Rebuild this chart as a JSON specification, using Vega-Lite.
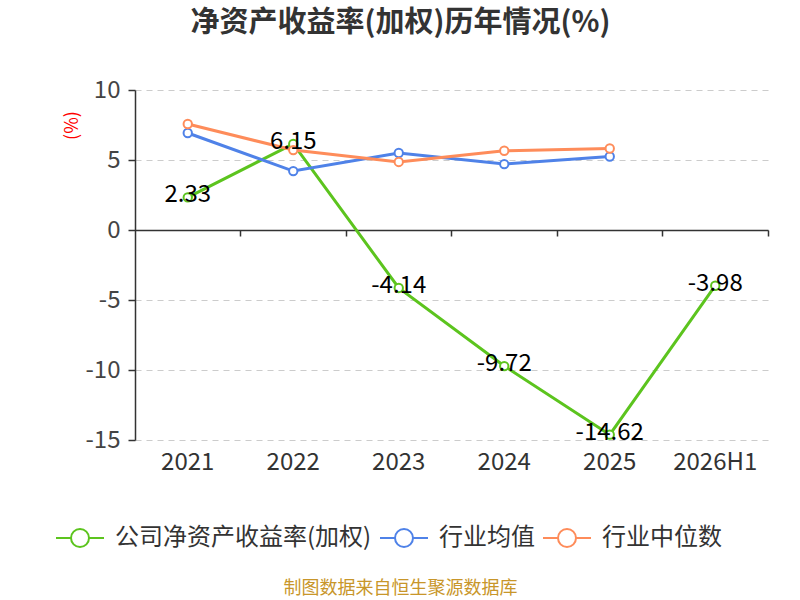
{
  "$schema": "https://vega.github.io/schema/vega-lite/v6.json",
  "width": 633,
  "height": 350,
  "autosize": {"type": "none"},
  "padding": {"left": 135, "top": 90, "right": 32, "bottom": 160},
  "background": "white",
  "config": {
    "view": {"stroke": null},
    "font": "Noto Sans CJK SC",
    "locale": {
      "number": {"decimal": ".", "thousands": ",", "grouping": [3], "currency": ["", ""], "minus": "-"}
    }
  },
  "title": {
    "text": "净资产收益率(加权)历年情况(%)",
    "fontSize": 29,
    "fontWeight": "bold",
    "color": "#333333",
    "anchor": "middle",
    "dx": -51,
    "offset": 40
  },
  "data": {
    "values": [
      {"year": "2021", "series": "公司净资产收益率(加权)", "value": 2.33},
      {"year": "2022", "series": "公司净资产收益率(加权)", "value": 6.15},
      {"year": "2023", "series": "公司净资产收益率(加权)", "value": -4.14},
      {"year": "2024", "series": "公司净资产收益率(加权)", "value": -9.72},
      {"year": "2025", "series": "公司净资产收益率(加权)", "value": -14.62},
      {"year": "2026H1", "series": "公司净资产收益率(加权)", "value": -3.98},
      {"year": "2021", "series": "行业均值", "value": 6.93},
      {"year": "2022", "series": "行业均值", "value": 4.21},
      {"year": "2023", "series": "行业均值", "value": 5.5},
      {"year": "2024", "series": "行业均值", "value": 4.71},
      {"year": "2025", "series": "行业均值", "value": 5.25},
      {"year": "2021", "series": "行业中位数", "value": 7.57},
      {"year": "2022", "series": "行业中位数", "value": 5.71},
      {"year": "2023", "series": "行业中位数", "value": 4.86},
      {"year": "2024", "series": "行业中位数", "value": 5.66},
      {"year": "2025", "series": "行业中位数", "value": 5.82}
    ]
  },
  "layer": [
    {
      "mark": {
        "type": "line",
        "strokeWidth": 3,
        "point": {"filled": false, "fill": "white", "size": 70, "strokeWidth": 2}
      },
      "encoding": {
        "x": {
          "field": "year",
          "type": "ordinal",
          "bandPosition": 0.5,
          "scale": {
            "type": "band",
            "domain": ["2021", "2022", "2023", "2024", "2025", "2026H1"],
            "paddingInner": 0,
            "paddingOuter": 0
          },
          "axis": {
            "domain": false,
            "ticks": false,
            "grid": false,
            "labelAngle": 0,
            "labelFontSize": 24,
            "labelColor": "#333333",
            "labelPadding": 10,
            "title": "制图数据来自恒生聚源数据库",
            "titleFontSize": 18,
            "titleFontWeight": "normal",
            "titleColor": "#c8962a",
            "titleX": 265,
            "titleY": 148,
            "titleAlign": "center",
            "titleBaseline": "middle"
          }
        },
        "y": {
          "field": "value",
          "type": "quantitative",
          "scale": {"domain": [-15, 10], "nice": false, "zero": false},
          "axis": {
            "values": [-15, -10, -5, 0, 5, 10],
            "labelFontSize": 24,
            "labelColor": "#444444",
            "labelPadding": 8,
            "tickSize": 7,
            "tickColor": "#333333",
            "tickWidth": 1.5,
            "domainColor": "#333333",
            "domainWidth": 1.5,
            "gridColor": "#cccccc",
            "gridDash": [6, 5],
            "gridWidth": 1.2,
            "title": "(%)",
            "titleColor": "#ff0000",
            "titleFontSize": 18,
            "titleFontWeight": "normal",
            "titleX": -63,
            "titleY": 35,
            "titleAlign": "center",
            "titleBaseline": "middle"
          }
        },
        "color": {
          "field": "series",
          "type": "nominal",
          "scale": {
            "domain": ["公司净资产收益率(加权)", "行业均值", "行业中位数"],
            "range": ["#5cc41e", "#4f82e8", "#fe8c5a"]
          },
          "legend": {
            "orient": "none",
            "direction": "horizontal",
            "legendX": -80,
            "legendY": 423,
            "title": null,
            "symbolType": "M-1,0H-0.375M0.375,0H1M0.375,0A0.375,0.375,0,1,1,-0.375,0A0.375,0.375,0,1,1,0.375,0",
            "symbolSize": 2304,
            "symbolStrokeWidth": 2,
            "symbolFillColor": "white",
            "labelFontSize": 24,
            "labelColor": "#333333",
            "labelOffset": 10,
            "labelLimit": 0,
            "columnPadding": 4
          }
        }
      }
    },
    {
      "transform": [{"filter": "datum.series === '公司净资产收益率(加权)'"}],
      "mark": {"type": "text", "fontSize": 24, "color": "#000000", "dy": -2},
      "encoding": {
        "x": {
          "field": "year",
          "type": "ordinal",
          "bandPosition": 0.5,
          "axis": {
            "orient": "bottom",
            "offset": -210,
            "labels": false,
            "grid": false,
            "title": null,
            "domainColor": "#333333",
            "domainWidth": 1.5,
            "ticks": true,
            "tickSize": 6,
            "tickColor": "#333333",
            "tickWidth": 1.5,
            "bandPosition": 1
          }
        },
        "y": {"field": "value", "type": "quantitative"},
        "text": {"field": "value", "type": "quantitative", "format": ".2f"}
      }
    }
  ],
  "resolve": {"axis": {"x": "independent"}}
}
